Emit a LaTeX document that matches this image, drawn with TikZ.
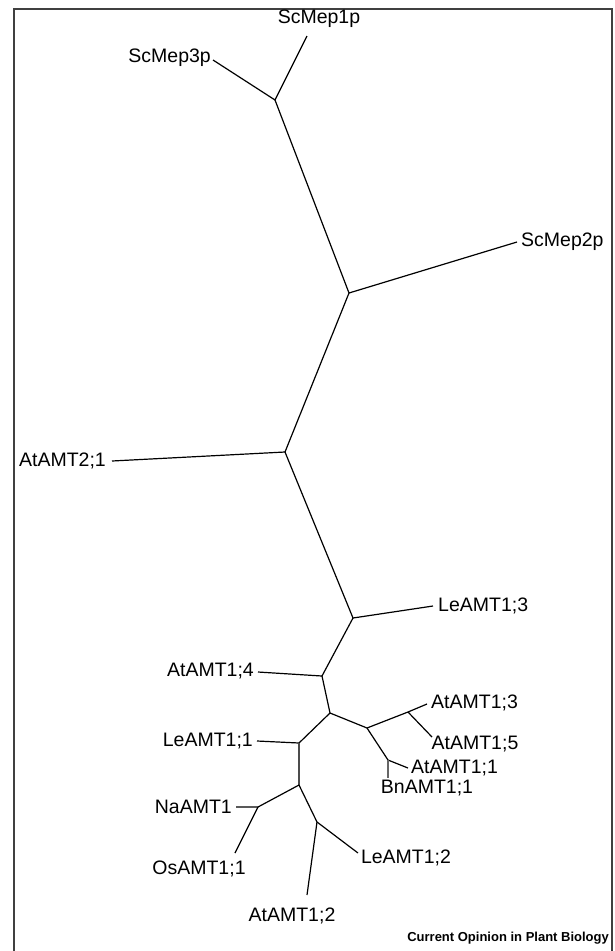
\documentclass[tikz,border=0pt]{standalone}
\usepackage{fontspec}
\setmainfont{Liberation Sans}
\begin{document}
\begin{tikzpicture}[x=1pt,y=-1pt,
  branch/.style={line width=1.2pt,black},
  leaf/.style={inner sep=2pt,font=\fontsize{19.5}{21}\selectfont},
  frame/.style={line width=2pt,black!75},
  caption/.style={inner sep=0pt,font=\fontsize{13}{15}\selectfont\bfseries}]
\useasboundingbox (0,0) rectangle (614,951);
\fill[white] (0,0) rectangle (614,951);
\draw[frame] (14,951) -- (14,9) -- (612,9) -- (612,951);
% internal nodes
\coordinate (n1) at (275,100);
\coordinate (n2) at (349,293);
\coordinate (n3) at (285,452);
\coordinate (n4) at (353,618);
\coordinate (n5) at (322,676);
\coordinate (n6) at (330,713);
\coordinate (n7) at (367,728);
\coordinate (n8) at (408,712);
\coordinate (n9) at (388,760);
\coordinate (n10) at (299,743);
\coordinate (n11) at (299,785);
\coordinate (n12) at (258,807);
\coordinate (n13) at (317,822);
% leaf ends
\coordinate (e1) at (307,36);
\coordinate (e3) at (213,60);
\coordinate (e2) at (517,242);
\coordinate (eA21) at (112,461);
\coordinate (eL13) at (433,606);
\coordinate (eA14) at (258,672);
\coordinate (eA13) at (427,704);
\coordinate (eA15) at (432,737);
\coordinate (eA11) at (408,768);
\coordinate (eB11) at (388,778);
\coordinate (eL11) at (257,741);
\coordinate (eNa) at (236,807);
\coordinate (eOs) at (235,853);
\coordinate (eL12) at (358,853);
\coordinate (eA12) at (307,895);
% labels
\node[leaf] (ScMep1p) at (319,19) {ScMep1p};
\node[leaf,anchor=east] (ScMep3p) at (213,58) {ScMep3p};
\node[leaf,anchor=west] (ScMep2p) at (519,242) {ScMep2p};
\node[leaf,anchor=east] (AtAMT21) at (108,461) {AtAMT2;1};
\node[leaf,anchor=west] (LeAMT13) at (436,606) {LeAMT1;3};
\node[leaf,anchor=east] (AtAMT14) at (256,671) {AtAMT1;4};
\node[leaf,anchor=west] (AtAMT13) at (429,703) {AtAMT1;3};
\node[leaf] (AtAMT15) at (475,744) {AtAMT1;5};
\node[leaf,anchor=west] (AtAMT11) at (409,768) {AtAMT1;1};
\node[leaf] (BnAMT11) at (427,788) {BnAMT1;1};
\node[leaf,anchor=east] (LeAMT11) at (255,741) {LeAMT1;1};
\node[leaf,anchor=east] (NaAMT1) at (234,807) {NaAMT1};
\node[leaf] (OsAMT11) at (199,869) {OsAMT1;1};
\node[leaf] (LeAMT12) at (406,858) {LeAMT1;2};
\node[leaf] (AtAMT12) at (292,916) {AtAMT1;2};
\node[caption,anchor=east] (cap) at (609,938) {Current Opinion in Plant Biology};
% branches
\draw[branch] (e1) -- (n1) -- (e3);
\draw[branch] (n1) -- (n2) -- (e2);
\draw[branch] (n2) -- (n3) -- (eA21);
\draw[branch] (n3) -- (n4) -- (eL13);
\draw[branch] (n4) -- (n5) -- (eA14);
\draw[branch] (n5) -- (n6) -- (n7);
\draw[branch] (n7) -- (n8) -- (eA13);
\draw[branch] (n8) -- (eA15);
\draw[branch] (n7) -- (n9) -- (eA11);
\draw[branch,black!60] (n9) -- (eB11);
\draw[branch] (n6) -- (n10) -- (eL11);
\draw[branch,black!70] (n10) -- (n11);
\draw[branch] (n11) -- (n12) -- (eNa);
\draw[branch] (n12) -- (eOs);
\draw[branch] (n11) -- (n13) -- (eL12);
\draw[branch] (n13) -- (eA12);
\end{tikzpicture}
\end{document}
